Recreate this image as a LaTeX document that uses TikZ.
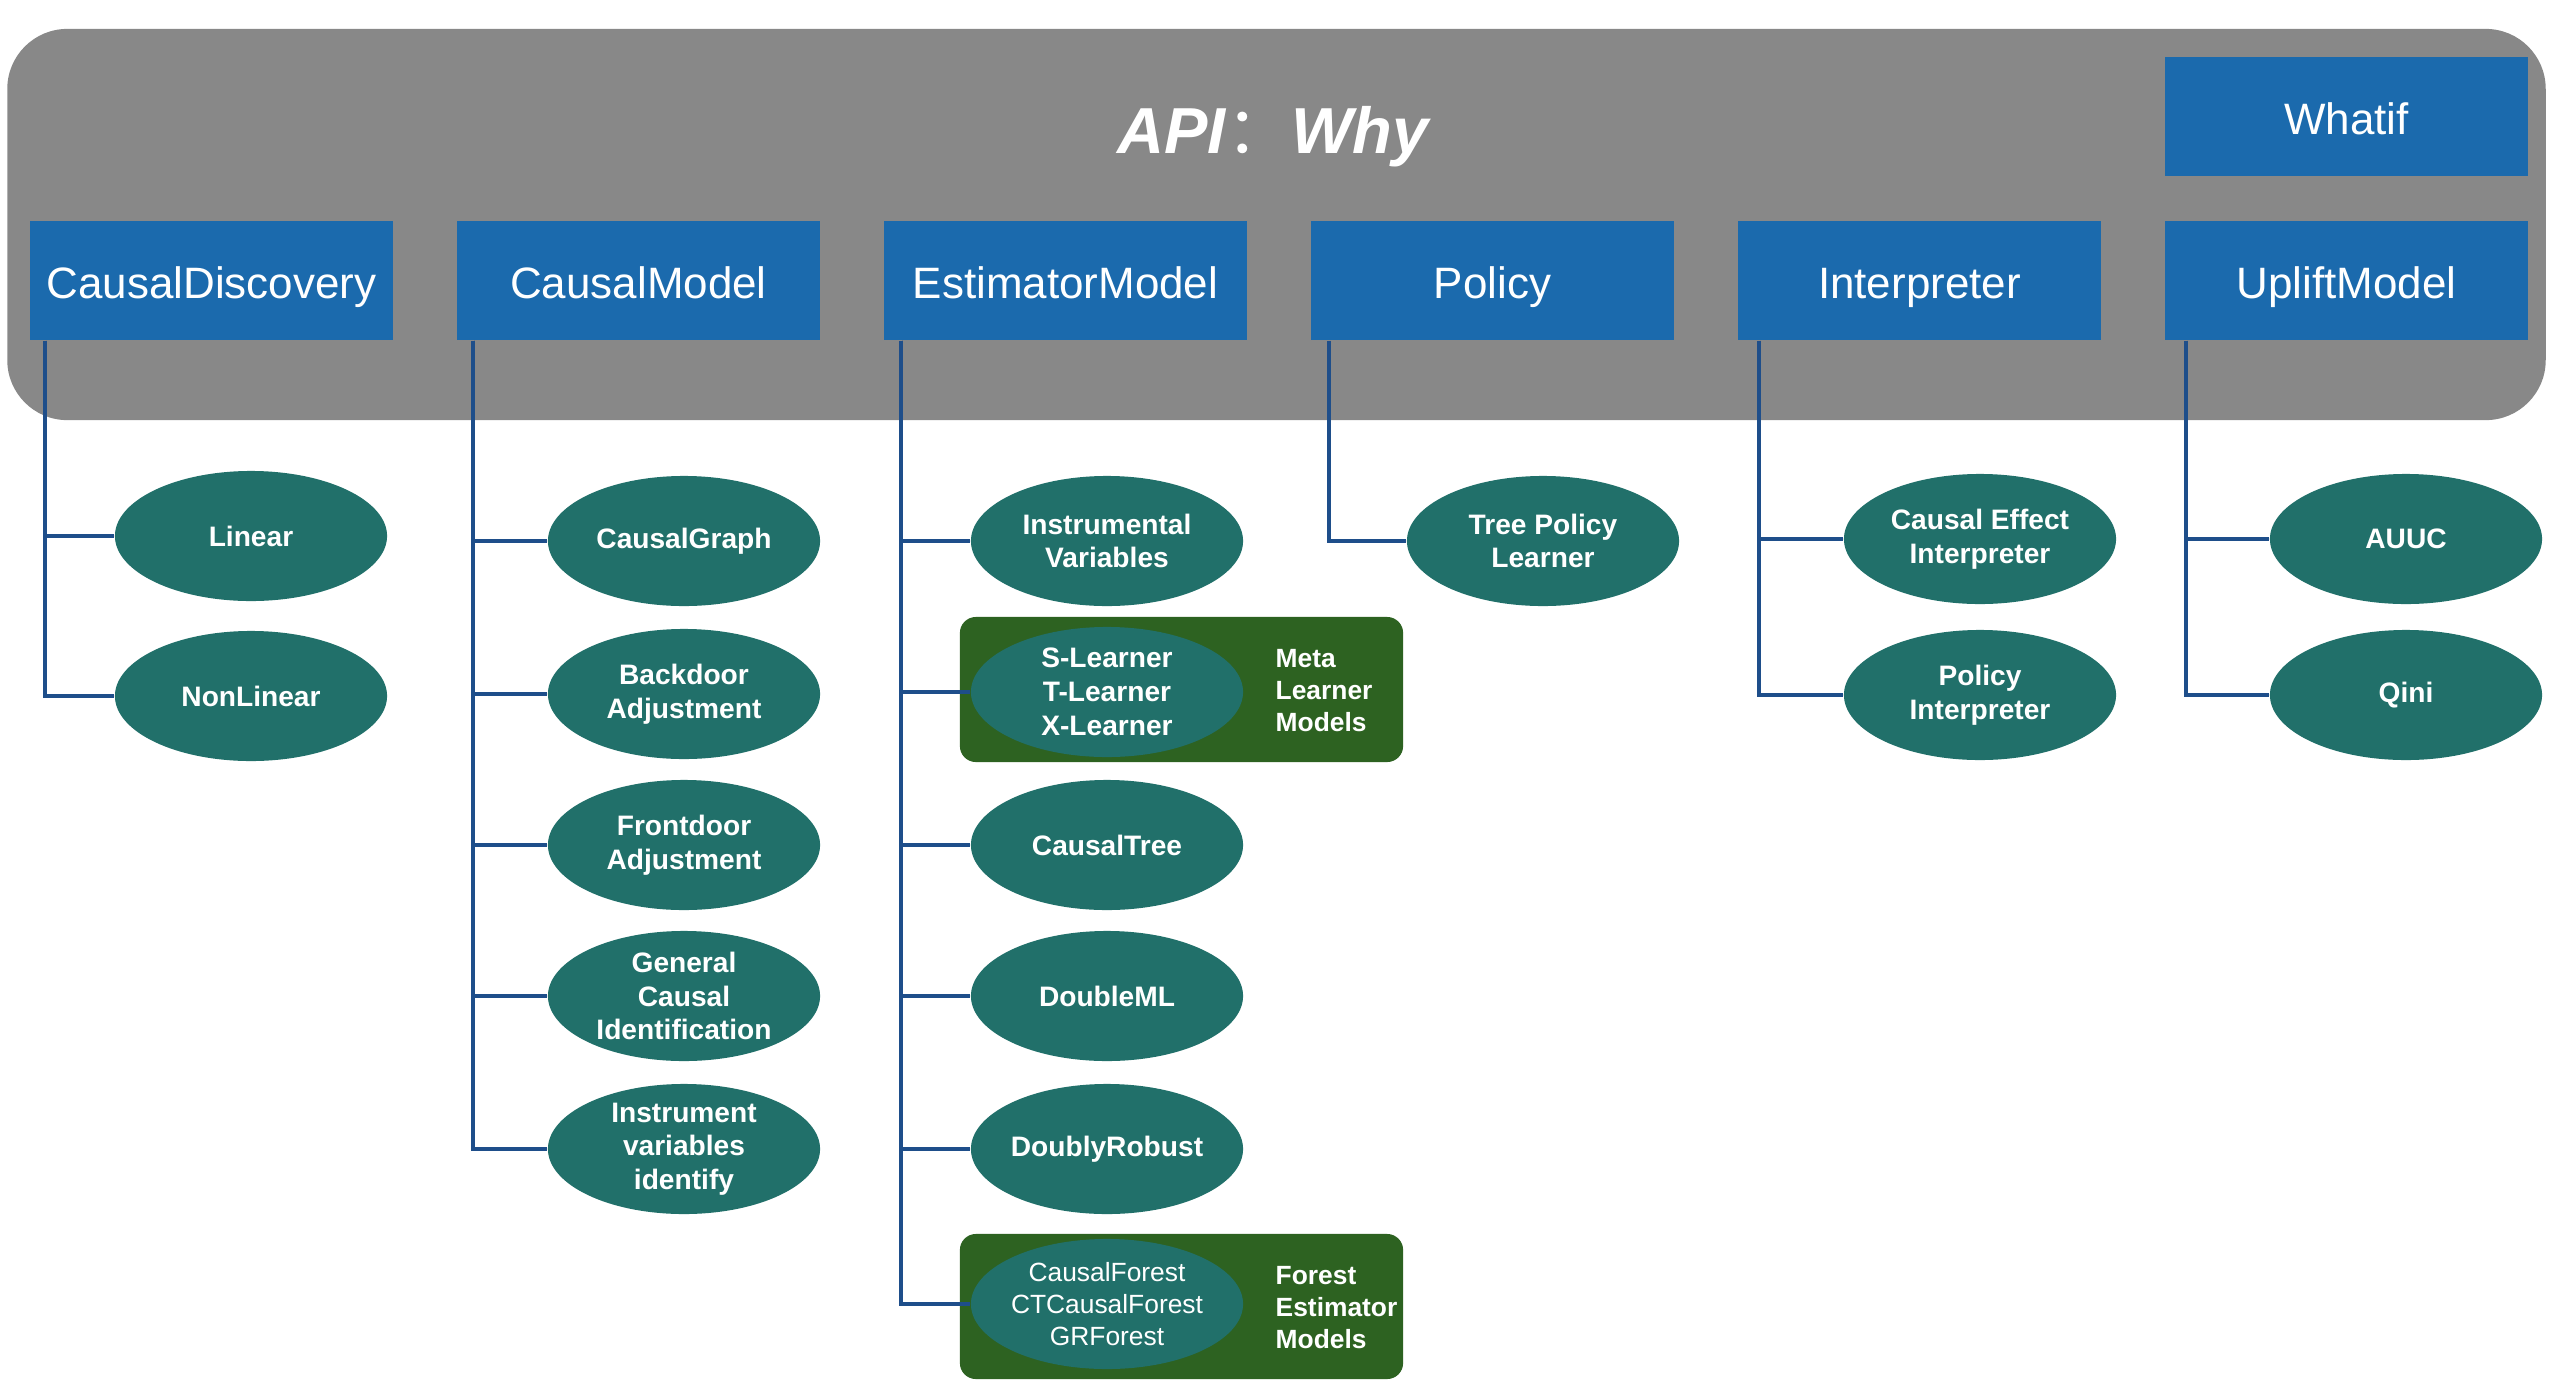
\documentclass[tikz,border=0pt]{standalone}
\usepackage{fontspec}
\setmainfont{Liberation Sans}
\newfontfamily\cjk{Noto Sans CJK SC}
\usepackage{tikz}
\usetikzlibrary{shapes.geometric,positioning,calc}
\definecolor{apigray}{RGB}{136,136,136}
\definecolor{apiblue}{RGB}{27,106,173}
\definecolor{leafteal}{RGB}{33,112,106}
\definecolor{groupgreen}{RGB}{45,98,33}
\definecolor{linkblue}{RGB}{30,78,138}

\begin{document}
\begin{tikzpicture}[
  x=0.01cm,y=-0.01cm,
  every node/.style={text=white,inner sep=0pt},
  module/.style={rectangle,fill=apiblue,minimum width=3.63cm,minimum height=1.19cm,text height=12pt,text depth=1.6pt,font=\fontsize{12.5}{15}\selectfont},
  leaf/.style={ellipse,fill=leafteal,minimum width=2.72cm,minimum height=1.3cm,inner sep=-4pt,align=center,font=\fontsize{8}{9.6}\selectfont\bfseries},
  group/.style={rectangle,rounded corners=0.16cm,fill=groupgreen,minimum width=4.43cm,minimum height=1.45cm},
  grouptext/.style={anchor=west,align=left,font=\fontsize{7.5}{9.1}\selectfont\bfseries},
  branch/.style={draw=linkblue,line width=1.2pt}]
  \useasboundingbox (0,0) rectangle (2553,1390);
  % API panel
  \node[rectangle,rounded corners=0.6cm,fill=apigray,minimum width=25.37cm,minimum height=3.91cm](api) at(1276.5,224.5){};
  \node[font=\fontsize{18.5}{22}\selectfont\bfseries\itshape](title) at(1273,137){API{\cjk\mdseries\upshape ：}Why};
  \node[module](whatif) at(2346.5,116.5){Whatif};
  \node[module](cd) at(211.5,280.5){CausalDiscovery};
  \node[module](cm) at(638.5,280.5){CausalModel};
  \node[module](em) at(1065.5,280.5){EstimatorModel};
  \node[module](pol) at(1492.5,280.5){Policy};
  \node[module](itp) at(1919.5,280.5){Interpreter};
  \node[module](up) at(2346.5,280.5){UpliftModel};
  % grouped estimators
  \node[group](meta) at(1181.5,689.5){};
  \node[grouptext](metatxt) at(1275,691){Meta\\Learner\\Models};
  \node[group](forest) at(1181.5,1306.5){};
  \node[grouptext](foresttxt) at(1275,1308){Forest\\Estimator\\Models};
  % leaves
  \node[leaf](lin) at(251,536){Linear};
  \node[leaf](nonlin) at(251,696){NonLinear};
  \node[leaf](cg) at(684,541){CausalGraph};
  \node[leaf](bd) at(684,694){Backdoor\\Adjustment};
  \node[leaf](fd) at(684,845){Frontdoor\\Adjustment};
  \node[leaf](gci) at(684,996){General\\Causal\\Identification};
  \node[leaf](ivi) at(684,1149){Instrument\\variables\\identify};
  \node[leaf](iv) at(1107,541){Instrumental\\Variables};
  \node[leaf](meta-l) at(1107,692){S-Learner\\T-Learner\\X-Learner};
  \node[leaf](ct) at(1107,845){CausalTree};
  \node[leaf](dml) at(1107,996){DoubleML};
  \node[leaf](dr) at(1107,1149){DoublyRobust};
  \node[leaf,font=\fontsize{7.5}{9.2}\selectfont](forest-l) at(1107,1304){CausalForest\\CTCausalForest\\GRForest};
  \node[leaf](tpl) at(1543,541){Tree Policy\\Learner};
  \node[leaf](cei) at(1980,539){Causal Effect\\Interpreter};
  \node[leaf](pi) at(1980,695){Policy\\Interpreter};
  \node[leaf](auuc) at(2406,539){AUUC};
  \node[leaf](qini) at(2406,695){Qini};
  % branches
  \foreach \l in {lin,nonlin} \draw[branch]([xshift=0.16cm]cd.south west)|-(\l);
  \foreach \l in {cg,bd,fd,gci,ivi} \draw[branch]([xshift=0.17cm]cm.south west)|-(\l);
  \foreach \l in {iv,meta-l,ct,dml,dr,forest-l} \draw[branch]([xshift=0.18cm]em.south west)|-(\l);
  \draw[branch]([xshift=0.19cm]pol.south west)|-(tpl);
  \foreach \l in {cei,pi} \draw[branch]([xshift=0.22cm]itp.south west)|-(\l);
  \foreach \l in {auuc,qini} \draw[branch]([xshift=0.22cm]up.south west)|-(\l);
\end{tikzpicture}
\end{document}
